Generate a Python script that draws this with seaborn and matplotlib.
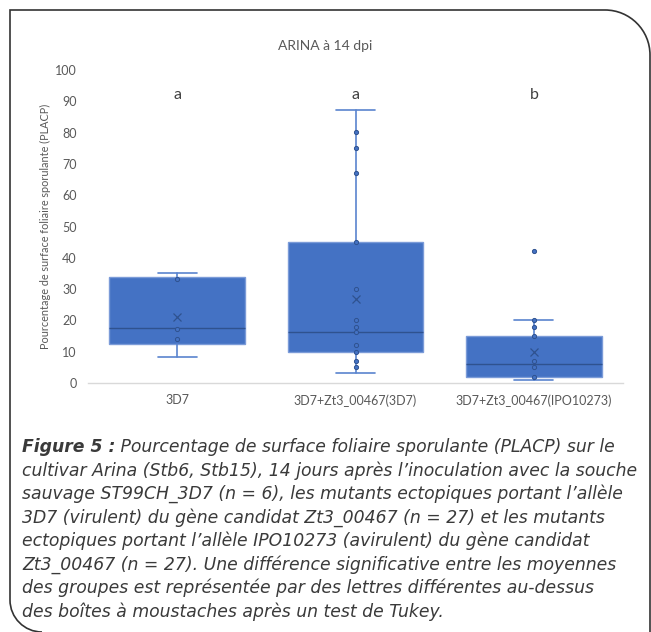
import numpy as np
import pandas as pd
import matplotlib
matplotlib.use("Agg")
import matplotlib.pyplot as plt
import seaborn as sns
from matplotlib.path import Path
from matplotlib.patches import PathPatch

# Data
groups = ['3D7', '3D7+Zt3_00467(3D7)', '3D7+Zt3_00467(IPO10273)']
q1 = [12.5, 10.0, 2.0]
med = [17.5, 16.2, 6.0]
q3 = [33.8, 45.1, 15.1]
whislo = [8.2, 3.2, 1.1]
whishi = [35.2, 87.2, 20.2]
means = [21.0, 26.9, 9.8]
letters = ['a', 'a', 'b']

# inner points (whisker ends are not drawn as dots)
pts_3d7 = [33.2, 17.2, 14.1]
pts_3d7_zt = [80.3, 75.2, 67.2, 45.1, 30.1, 20.2, 18.0, 16.2, 12.1, 9.9, 7.1, 5.0]
pts_ipo = [42.2, 20.2, 18.0, 15.1, 7.1, 5.0, 2.0]

caption = [
    "cultivar Arina (Stb6, Stb15), 14 jours après l’inoculation avec la souche",
    "sauvage ST99CH_3D7 (n = 6), les mutants ectopiques portant l’allèle",
    "3D7 (virulent) du gène candidat Zt3_00467 (n = 27) et les mutants",
    "ectopiques portant l’allèle IPO10273 (avirulent) du gène candidat",
    "Zt3_00467 (n = 27). Une différence significative entre les moyennes",
    "des groupes est représentée par des lettres différentes au-dessus",
    "des boîtes à moustaches après un test de Tukey.",
]

df = pd.DataFrame({
    'group': [groups[0]] * len(pts_3d7) + [groups[1]] * len(pts_3d7_zt) + [groups[2]] * len(pts_ipo),
    'value': pts_3d7 + pts_3d7_zt + pts_ipo,
})

sns.set_theme(style='white')
plt.rcParams['font.family'] = ['Lato', 'DejaVu Sans']

W, H = 651, 632
fig = plt.figure(figsize=(W / 100, H / 100), dpi=100)
ax = fig.add_axes([88 / W, (H - 383) / H, (623 - 88) / W, (383 - 70) / H])

box_fill = '#4472C4'
stats = [dict(q1=q1[i], med=med[i], q3=q3[i], whislo=whislo[i], whishi=whishi[i],
              mean=means[i], label=groups[i]) for i in range(3)]
ax.bxp(stats, positions=[0, 1, 2], widths=0.76, patch_artist=True, showmeans=True,
       showfliers=False,
       boxprops=dict(facecolor=box_fill, edgecolor='#7B9BD8', linewidth=1.0),
       medianprops=dict(color='#2F528F', linewidth=1.0),
       whiskerprops=dict(color='#5A84CE', linewidth=1.2),
       capprops=dict(color='#5A84CE', linewidth=1.2),
       capwidths=0.22,
       meanprops=dict(marker='x', markeredgecolor='#2F528F', markersize=6, markeredgewidth=0.9))

sns.stripplot(data=df, x='group', y='value', order=groups, jitter=False, ax=ax,
              color=box_fill, edgecolor='#2F528F', linewidth=0.7, size=3.0, zorder=5)

for i, l in enumerate(letters):
    ax.text(i, 92, l, ha='center', va='center', fontsize=11.5, color='#404040')

ax.set_xlim(-0.5, 2.5)
ax.set_ylim(0, 100)
ax.set_yticks(range(0, 101, 10))
ax.set_xlabel('')
ax.set_ylabel('Pourcentage de surface foliaire sporulante (PLACP)', fontsize=7.8,
              color='#595959', labelpad=3)
ax.tick_params(axis='y', labelsize=9, colors='#595959', length=0, pad=8)
ax.tick_params(axis='x', labelsize=9, colors='#595959', length=0, pad=8)
for s in ['top', 'right', 'left']:
    ax.spines[s].set_visible(False)
ax.spines['bottom'].set_color('#D9D9D9')
ax.spines['bottom'].set_linewidth(1.0)
ax.grid(False)

fig.text(0.5, 1 - 46 / H, 'ARINA à 14 dpi', ha='center', va='center', fontsize=10, color='#595959')

# caption
cap_font = ['DejaVu Sans']
cap_size = 12.4
y0 = 1 - 447 / H
bold = fig.text(22 / W, y0, 'Figure 5 :', ha='left', va='center', fontsize=cap_size,
                fontweight='bold', style='italic', color='#3a3a3a', family=cap_font)
ax.annotate(' Pourcentage de surface foliaire sporulante (PLACP) sur le', xy=(1, 0.5),
            xycoords=bold, ha='left', va='center', fontsize=cap_size, style='italic',
            color='#3a3a3a', annotation_clip=False, family=cap_font)
for k, line in enumerate(caption):
    fig.text(22 / W, y0 - (k + 1) * 23.5 / H, line, ha='left', va='center', fontsize=cap_size,
             style='italic', color='#3a3a3a', family=cap_font)

# frame with rounded corners (pixel coords, y from top)
def px(x, y):
    return (x / W, 1 - y / H)

r1, r2 = 45, 32
k = 0.5523
verts = [px(W - 1, H + 5), px(W - 1, 10 + r1),
         px(W - 1, 10 + r1 - k * r1), px(W - 1 - r1 + k * r1, 10), px(W - 1 - r1, 10),
         px(10, 10), px(10, H - r2),
         px(10, H - r2 + k * r2), px(10 + r2 - k * r2, H), px(10 + r2, H)]
codes = [Path.MOVETO, Path.LINETO, Path.CURVE4, Path.CURVE4, Path.CURVE4,
         Path.LINETO, Path.LINETO, Path.CURVE4, Path.CURVE4, Path.CURVE4]
fig.add_artist(PathPatch(Path(verts, codes), transform=fig.transFigure, fill=False,
                         edgecolor='#333333', linewidth=1.2, clip_on=False))

fig.savefig('out.png', dpi=100, facecolor='white')
